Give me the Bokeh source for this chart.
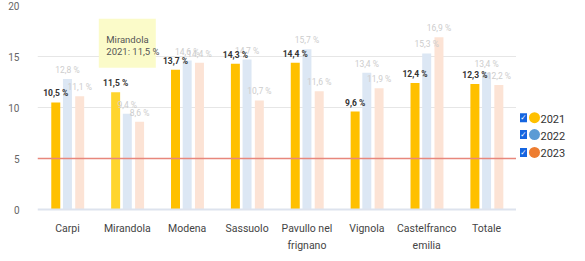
from bokeh.plotting import figure
from bokeh.models import ColumnDataSource, Range1d, FixedTicker, Span
from bokeh.transform import dodge
from bokeh.layouts import row
from bokeh.core.properties import value
from bokeh.embed import file_html
from bokeh.resources import INLINE

# ---- data ----
categories = ["Carpi", "Mirandola", "Modena", "Sassuolo", "Pavullo nel frignano",
              "Vignola", "Castelfranco emilia", "Totale"]
tick_labels = ["Carpi", "Mirandola", "Modena", "Sassuolo", "Pavullo nel\nfrignano",
               "Vignola", "Castelfranco\nemilia", "Totale"]
years = ["2021", "2022", "2023"]
v2021 = [10.5, 11.5, 13.7, 14.3, 14.4, 9.6, 12.4, 12.3]
v2022 = [12.8, 9.4, 14.6, 14.7, 15.7, 13.4, 15.3, 13.4]
v2023 = [11.1, 8.6, 14.4, 10.7, 11.6, 11.9, 16.9, 12.2]
threshold = 5
y_ticks = [0, 5, 10, 15, 20]
hovered_category = "Mirandola"
hovered_year = "2021"

FONT = "Roboto"
bar_colors = {"2021": "#FFC000", "2022": "#DCE7F4", "2023": "#FCE3D5"}
label_colors = {"2021": "#333333", "2022": "#CDCDCD", "2023": "#CDCDCD"}
legend_colors = {"2021": "#FFC000", "2022": "#5B9BD5", "2023": "#ED7D31"}
offsets = {"2021": -0.195, "2022": 0.0, "2023": 0.205}

H = 258
TOP = 5

def fmt(v):
    return ("%.1f" % v).replace(".", ",") + " %"

# range extends below zero to leave room for the (multi-line) category labels
yr_range = Range1d(-4.8, 20)
p = figure(x_range=categories, y_range=yr_range, width=516, height=H,
           output_backend="svg", toolbar_location=None,
           min_border_left=37, min_border_right=0, min_border_top=TOP, min_border_bottom=0)
p.outline_line_color = None
p.background_fill_color = "white"
p.xaxis.visible = False

series = {"2021": v2021, "2022": v2022, "2023": v2023}
for yr in years:
    vals = series[yr]
    cols = [bar_colors[yr]] * len(vals)
    if yr == hovered_year:
        cols = ["#FFD52E" if c == hovered_category else bar_colors[yr] for c in categories]
    src = ColumnDataSource(dict(cat=categories, val=vals, col=cols))
    p.vbar(x=dodge("cat", offsets[yr], range=p.x_range), top="val", bottom=0, width=0.15,
           source=src, fill_color="col", line_color=None)
for yr in ["2022", "2023", "2021"]:
    vals = series[yr]
    src = ColumnDataSource(dict(cat=categories, val=vals, lab=[fmt(v) for v in vals]))
    p.text(x=dodge("cat", offsets[yr], range=p.x_range), y="val", text="lab", source=src,
           text_align="center", text_baseline="bottom", y_offset=-4,
           text_font=value(FONT), text_font_size="8.5px",
           text_font_style="bold" if yr == "2021" else "normal",
           text_color=label_colors[yr])

p.add_layout(Span(location=threshold, dimension="width", line_color="#E8877C", line_width=1.5))
p.add_layout(Span(location=0, dimension="width", line_color="#DDE3EE", line_width=2))

# tooltip
hv = v2021[categories.index(hovered_category)]
tsrc = ColumnDataSource(dict(x=[hovered_category], y=[16.3]))
p.rect(x="x", y="y", width=57, height=49, width_units="screen", height_units="screen",
       source=tsrc, fill_color="#FBFBC6", line_color=None, fill_alpha=0.95)
tt = ColumnDataSource(dict(x=[hovered_category, hovered_category], y=[16.3, 16.3],
                           t=[hovered_category, hovered_year + ": " + fmt(hv)],
                           yo=[-4, 8]))
p.text(x="x", y="y", text="t", y_offset="yo", x_offset=-21, source=tt, text_align="left",
       text_baseline="middle", text_font=value(FONT), text_font_size="9.5px", text_color="#555555")

# category labels
csrc = ColumnDataSource(dict(cat=categories, lab=tick_labels, y=[0] * len(categories)))
p.text(x="cat", y="y", text="lab", source=csrc, y_offset=12, text_align="center",
       text_baseline="top", text_font=value(FONT), text_font_size="10.5px",
       text_color="#444444", text_line_height=1.35)

p.yaxis.ticker = FixedTicker(ticks=y_ticks)
p.ygrid.ticker = FixedTicker(ticks=[10, 15, 20])
p.ygrid.grid_line_color = "#E6E6E6"
p.xgrid.grid_line_color = None
p.yaxis.axis_line_color = None
p.yaxis.major_tick_line_color = None
p.yaxis.minor_tick_line_color = None
p.yaxis.major_label_text_font = FONT
p.yaxis.major_label_text_font_size = "10px"
p.yaxis.major_label_text_color = "#666666"
p.yaxis.major_label_standoff = 12

# legend panel (shares the vertical range with the chart)
lg = figure(width=60, height=H, x_range=Range1d(0, 60), y_range=yr_range,
            output_backend="svg", toolbar_location=None,
            min_border_left=0, min_border_right=0, min_border_top=TOP, min_border_bottom=0)
lg.axis.visible = False
lg.grid.visible = False
lg.outline_line_color = None
ly = [9.0, 7.35, 5.6]
lsrc = ColumnDataSource(dict(y=ly, yr=years, col=[legend_colors[y] for y in years],
                             cx=[7] * 3, mx=[18] * 3, tx=[24] * 3, ck=["\u2713"] * 3))
lg.rect(x="cx", y="y", width=7, height=9, width_units="screen", height_units="screen",
        source=lsrc, fill_color="#1565E0", line_color=None)
lg.text(x="cx", y="y", text="ck", source=lsrc, text_align="center", text_baseline="middle",
        text_color="white", text_font=value("DejaVu Sans"), text_font_size="7.5px", text_font_style="bold")
lg.scatter(x="mx", y="y", size=11, source=lsrc, fill_color="col", line_color=None)
lg.text(x="tx", y="y", text="yr", source=lsrc, text_align="left", text_baseline="middle",
        text_font=value(FONT), text_font_size="11px", text_color="#333333", y_offset=1)

layout = row(p, lg, spacing=0)
open("out.html", "w").write(file_html(layout, INLINE))
